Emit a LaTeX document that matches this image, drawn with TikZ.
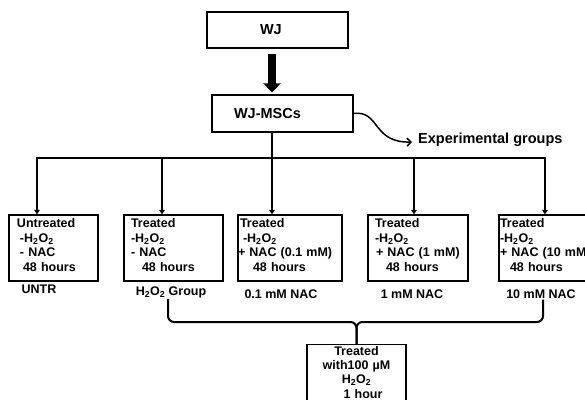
\documentclass[tikz,border=0pt]{standalone}
\usepackage{fontspec}
\setmainfont{Liberation Sans}
\usepackage{xcolor}
\usetikzlibrary{arrows.meta}

\newcommand{\hoo}{H\textsubscript{2}O\textsubscript{2}}
\newcommand{\lowpad}[1]{\rule[-#1]{0pt}{#1}}

\begin{document}
\begin{tikzpicture}
    [x=1pt, y=-1pt,
     topbox/.style={rectangle, draw=black, line width=1.2pt, minimum height=36pt, text width=141pt, inner xsep=0pt, align=left, font=\fontsize{14.5}{16}\selectfont\bfseries},
     grpbox/.style={rectangle, draw=black, line width=1.2pt, minimum height=66pt, inner xsep=0pt, inner ysep=0pt, align=left, font=\fontsize{12.5}{14.6}\selectfont\bfseries},
     lbl/.style={inner sep=1pt, font=\fontsize{12.5}{14.6}\selectfont\bfseries},
     bigarrow/.style={line width=8pt, -{Triangle[width=17pt,length=9pt]}},
     drop/.style={line width=1.8pt, -{Triangle[width=5.5pt,length=4.5pt]}},
     brk/.style={line width=2pt, rounded corners=6pt}]
    \useasboundingbox (0,0) rectangle (585,399);
    \clip (0,0) rectangle (585,399);

    % source and cells
    \node[topbox] (wj) at (277.5,30) {\hspace*{53pt}WJ};
    \node[topbox, minimum height=37pt] (msc) at (282.5,113.5) {\hspace*{22pt}WJ-MSCs};
    \draw[bigarrow] ([xshift=-5.5pt,yshift=-5pt]wj.south) -- ([xshift=-10.5pt,yshift=2pt]msc.north);

    \node[inner sep=2pt, anchor=west, font=\fontsize{14.5}{16}\selectfont\bfseries] (expg) at (416,140) {Experimental groups};
    \draw[line width=1.5pt, -{Straight Barb[length=4pt,width=8pt]}] (msc.east) .. controls (380,110) and (372,143) .. ([xshift=-4pt,yshift=-2pt]expg.west);

    % groups
    \node[grpbox, text width=89pt] (untr) at (53.5,248) {\hspace*{8pt}Untreated\\ \hspace*{11pt}-\hoo\\ \hspace*{11pt}- NAC\\ \hspace*{14pt}48 hours\lowpad{6pt}};
    \node[grpbox, text width=99pt] (hgrp) at (173.5,248) {\hspace*{7pt}Treated\\ \hspace*{7pt}-\hoo\\ \hspace*{7pt}- NAC\\ \hspace*{18pt}48 hours\lowpad{6pt}};
    \node[grpbox, text width=104pt] (nacA) at (290,248) {\hspace*{2pt}Treated\\ \hspace*{5pt}-\hoo\\ + NAC (0.1 mM)\\ \hspace*{15pt}48 hours\lowpad{6pt}};
    \node[grpbox, text width=100pt] (nacB) at (418,248) {\hspace*{7pt}Treated\\ \hspace*{7pt}-\hoo\\ \hspace*{8pt}+ NAC (1 mM)\\ \hspace*{18pt}48 hours\lowpad{6pt}};
    \node[grpbox, text width=100pt] (nacC) at (549,248) {\hspace*{1pt}Treated\\ \hspace*{1pt}-\hoo\\ \hspace*{1pt}+ NAC (10 mM)\\ \hspace*{11pt}48 hours\lowpad{6pt}};

    \node[lbl] (untrlbl) at (39,289) {UNTR};
    \node[lbl] (hgrplbl) at (171,292) {\hoo\ Group};
    \node[lbl] (nacAlbl) at (281,294) {0.1 mM NAC};
    \node[lbl] (nacBlbl) at (412,294) {1 mM NAC};
    \node[lbl] (nacClbl) at (541,294) {10 mM NAC};

    % bus
    \coordinate (stem) at (272,158);
    \draw[line width=1.5pt] ([xshift=-10.5pt]msc.south) -- (stem);
    \coordinate (busL) at (36.1,158);
    \coordinate (busR) at (545.9,158);
    \draw[line width=2.4pt] (busL) -- (busR);
    \foreach \n/\x in {untr/37,hgrp/162,nacA/272,nacB/414,nacC/545}{
        \coordinate (b\n) at (\x,157);
        \draw[drop] (b\n) -- (\x,0 |- \n.north);
    }

    % treatment
    \node[rectangle, draw=black, line width=1.2pt, text width=99pt, inner xsep=0pt, inner ysep=1.5pt, align=center, anchor=north, font=\fontsize{12.5}{14.3}\selectfont\bfseries] (trt) at (356.5,344) {Treated\\ with100 µM\\ \hoo\\ \hspace*{13pt}1 hour\lowpad{12pt}};
    \coordinate (jn) at ([yshift=22pt]trt.north);
    \draw[brk] ([xshift=-3pt]hgrplbl.south) |- (jn) -- (trt.north);
    \draw[brk] ([xshift=2pt]nacClbl.south) |- (jn) -- (trt.north);
\end{tikzpicture}
\end{document}
